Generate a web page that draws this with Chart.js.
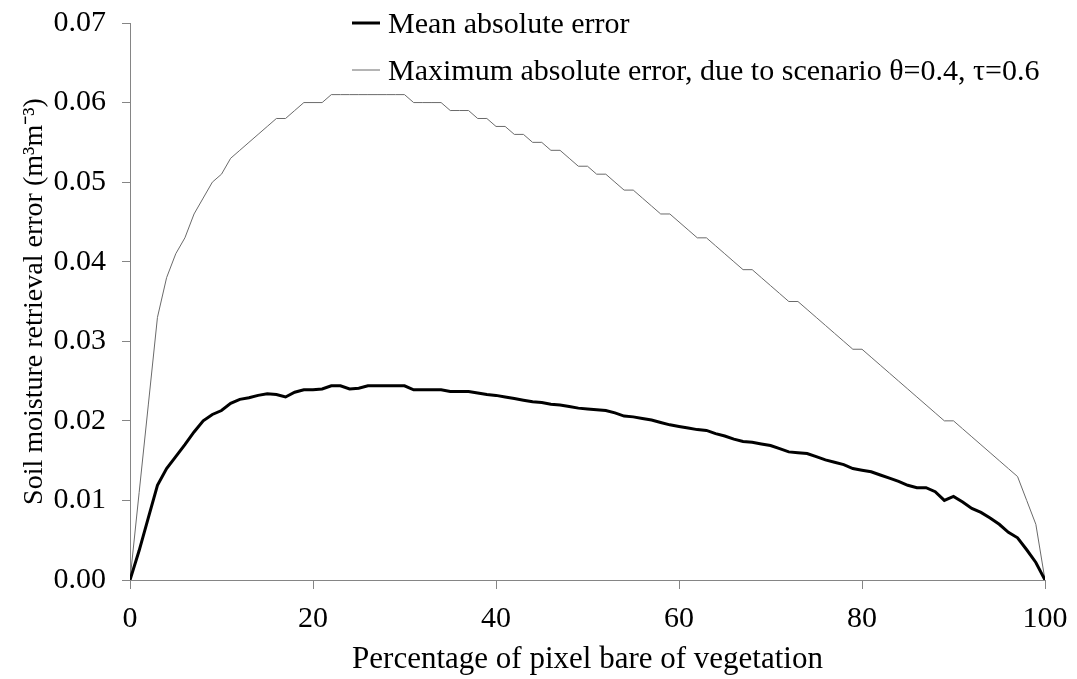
<!DOCTYPE html>
<html>
<head>
<meta charset="utf-8">
<script src="https://cdn.jsdelivr.net/npm/chart.js@4.4.1/dist/chart.umd.min.js"></script>
<style>
  html, body { margin: 0; padding: 0; background: #ffffff; }
  #wrap { position: relative; width: 1077px; height: 679px; }
</style>
</head>
<body>
<div id="wrap"><canvas id="c" width="1077" height="679"></canvas></div>
<script>
// ---- Data ----
const pctBare = [0,1,2,3,4,5,6,7,8,9,10,11,12,13,14,15,16,17,18,19,20,
  21,22,23,24,25,26,27,28,29,30,31,32,33,34,35,36,37,38,39,40,
  41,42,43,44,45,46,47,48,49,50,51,52,53,54,55,56,57,58,59,60,
  61,62,63,64,65,66,67,68,69,70,71,72,73,74,75,76,77,78,79,80,
  81,82,83,84,85,86,87,88,89,90,91,92,93,94,95,96,97,98,99,100];

const meanAbsError = [0,0.0037,0.0078,0.0119,0.0140,0.0155,0.0170,0.0186,0.0200,0.0208,0.0213,
  0.0222,0.0227,0.0229,0.0232,0.0234,0.0233,0.0230,0.0236,0.0239,0.0239,
  0.0240,0.0244,0.0244,0.0240,0.0241,0.0244,0.0244,0.0244,0.0244,0.0244,
  0.0239,0.0239,0.0239,0.0239,0.0237,0.0237,0.0237,0.0235,0.0233,0.0232,
  0.0230,0.0228,0.0226,0.0224,0.0223,0.0221,0.0220,0.0218,0.0216,0.0215,
  0.0214,0.0213,0.0210,0.0206,0.0205,0.0203,0.0201,0.0198,0.0195,0.0193,
  0.0191,0.0189,0.0188,0.0184,0.0181,0.0177,0.0174,0.0173,0.0171,0.0169,
  0.0165,0.0161,0.0160,0.0159,0.0155,0.0151,0.0148,0.0145,0.0140,0.0138,
  0.0136,0.0132,0.0128,0.0124,0.0119,0.0116,0.0116,0.0111,0.0100,0.0105,
  0.0098,0.0090,0.0085,0.0078,0.0070,0.0060,0.0053,0.0038,0.0022,0];

const maxAbsError = [0,0.011,0.022,0.033,0.038,0.041,0.043,0.046,0.048,0.050,0.051,
  0.053,0.054,0.055,0.056,0.057,0.058,0.058,0.059,0.060,0.060,
  0.060,0.061,0.061,0.061,0.061,0.061,0.061,0.061,0.061,0.061,
  0.060,0.060,0.060,0.060,0.059,0.059,0.059,0.058,0.058,0.057,
  0.057,0.056,0.056,0.055,0.055,0.054,0.054,0.053,0.052,0.052,
  0.051,0.051,0.050,0.049,0.049,0.048,0.047,0.046,0.046,0.045,
  0.044,0.043,0.043,0.042,0.041,0.040,0.039,0.039,0.038,0.037,
  0.036,0.035,0.035,0.034,0.033,0.032,0.031,0.030,0.029,0.029,
  0.028,0.027,0.026,0.025,0.024,0.023,0.022,0.021,0.020,0.020,
  0.019,0.018,0.017,0.016,0.015,0.014,0.013,0.010,0.007,0];

const xTicks = [0, 20, 40, 60, 80, 100];
const yTicks = [0, 0.01, 0.02, 0.03, 0.04, 0.05, 0.06, 0.07];

const seriesLabels = ['Mean absolute error', 'Maximum absolute error, due to scenario \u03B8=0.4, \u03C4=0.6'];
const xTitle = 'Percentage of pixel bare of vegetation';
const yTitle = 'Soil moisture retrieval error (m\u00B3m\u207B\u00B3)';

// ---- Chart ----
const FONT = "'Liberation Serif', 'Times New Roman', serif";
const AXIS_COLOR = '#858585';

const toPoints = (xs, ys) => xs.map((x, i) => ({ x: x, y: ys[i] }));

const legendPlugin = {
  id: 'insideLegend',
  afterDatasetsDraw(chart) {
    const ctx = chart.ctx;
    const rows = [{ lineY: 23, baseY: 33 }, { lineY: 70, baseY: 80 }];
    ctx.save();
    chart.data.datasets.forEach((ds, i) => {
      const r = rows[i];
      ctx.beginPath();
      ctx.strokeStyle = ds.borderColor;
      ctx.lineWidth = ds.borderWidth;
      ctx.moveTo(352, r.lineY);
      ctx.lineTo(380, r.lineY);
      ctx.stroke();
      ctx.fillStyle = '#000000';
      ctx.font = '30px ' + FONT;
      ctx.textAlign = 'left';
      ctx.textBaseline = 'alphabetic';
      ctx.fillText(ds.label, 388, r.baseY);
    });
    ctx.restore();
  }
};

new Chart(document.getElementById('c'), {
  type: 'line',
  data: {
    datasets: [
      {
        label: seriesLabels[0],
        data: toPoints(pctBare, meanAbsError),
        borderColor: '#000000',
        borderWidth: 3,
        pointRadius: 0,
        tension: 0,
        fill: false
      },
      {
        label: seriesLabels[1],
        data: toPoints(pctBare, maxAbsError),
        borderColor: '#6a6a6a',
        borderWidth: 1,
        pointRadius: 0,
        tension: 0,
        fill: false
      }
    ]
  },
  options: {
    responsive: false,
    animation: false,
    devicePixelRatio: 1,
    layout: { padding: { left: 0, right: 32, top: 23, bottom: 0 } },
    plugins: {
      legend: { display: false },
      tooltip: { enabled: false }
    },
    scales: {
      x: {
        type: 'linear',
        min: 0,
        max: 100,
        afterBuildTicks(scale) { scale.ticks = xTicks.map(v => ({ value: v })); },
        afterFit(scale) { scale.height = 99; scale.paddingLeft = 0; scale.paddingRight = 0; },
        ticks: {
          color: '#000000',
          font: { family: FONT, size: 30 },
          padding: 12,
          maxRotation: 0,
          autoSkip: false,
          callback: v => String(v)
        },
        grid: { drawOnChartArea: false, drawTicks: true, tickLength: 9, color: AXIS_COLOR },
        border: { display: true, color: AXIS_COLOR, width: 1 },
        title: {
          display: true,
          text: xTitle,
          color: '#000000',
          font: { family: FONT, size: 31 },
          padding: { top: 0, bottom: 1 }
        }
      },
      y: {
        type: 'linear',
        min: 0,
        max: 0.07,
        afterBuildTicks(scale) { scale.ticks = yTicks.map(v => ({ value: v })); },
        afterFit(scale) { scale.width = 130; scale.paddingTop = 0; scale.paddingBottom = 0; },
        ticks: {
          color: '#000000',
          font: { family: FONT, size: 30 },
          padding: 16,
          autoSkip: false,
          callback: v => Number(v).toFixed(2)
        },
        grid: { drawOnChartArea: false, drawTicks: true, tickLength: 8, color: AXIS_COLOR },
        border: { display: true, color: AXIS_COLOR, width: 1 },
        title: {
          display: true,
          text: yTitle,
          color: '#000000',
          font: { family: FONT, size: 28 },
          padding: { top: 18, bottom: 0 }
        }
      }
    }
  },
  plugins: [legendPlugin]
});
</script>
</body>
</html>
